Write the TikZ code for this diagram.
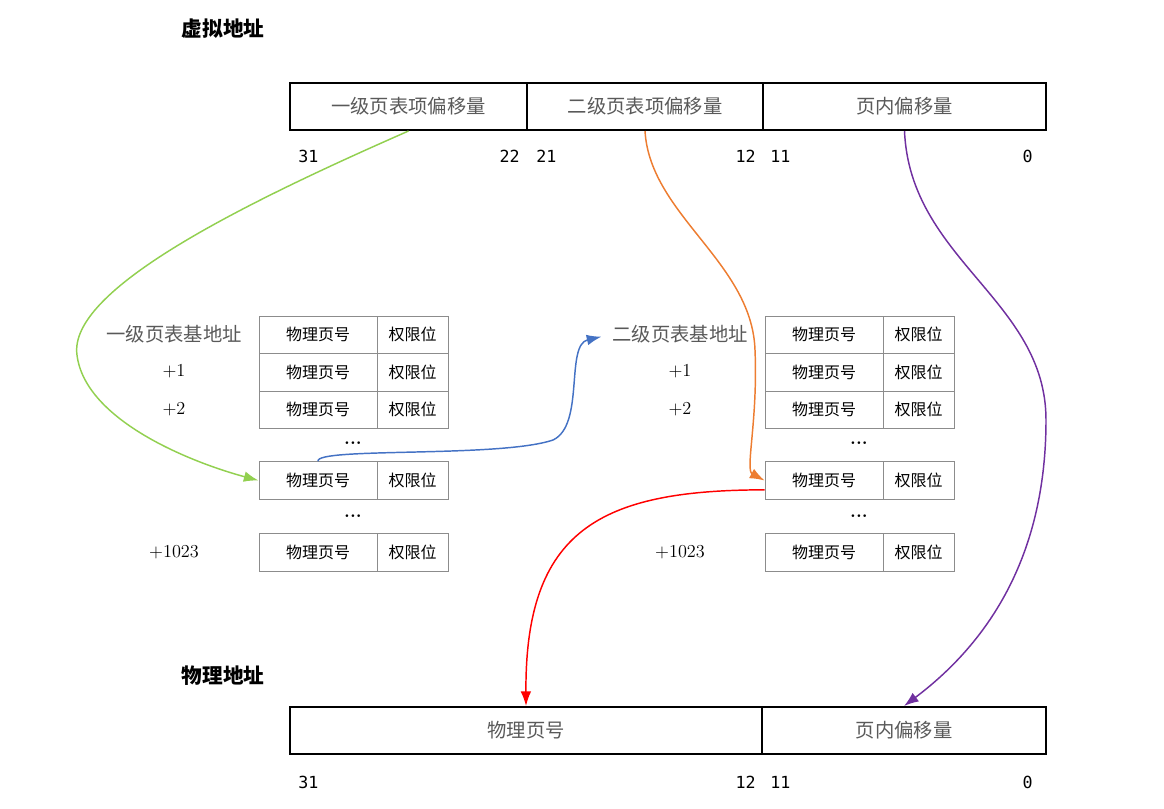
\documentclass[tikz,border=0pt]{standalone}
\usepackage{fontspec}
\newfontfamily\cjk{Noto Sans CJK SC}
\newfontfamily\mono{DejaVu Sans Mono}
\usetikzlibrary{arrows.meta}
\definecolor{cgreen}{HTML}{92D050}
\definecolor{corange}{HTML}{ED7D31}
\definecolor{cblue}{HTML}{4472C4}
\definecolor{cred}{HTML}{FF0000}
\definecolor{cpurple}{HTML}{7030A0}
\tikzset{
  bar/.style={draw=black, line width=1.5pt, inner sep=0pt, minimum height=35.25pt,
    font=\cjk\fontsize{14.5}{16}\selectfont, text=black!65},
  cell/.style={draw=black!45, line width=0.75pt, inner sep=0pt, minimum height=28.125pt,
    font=\cjk\fontsize{12}{14}\selectfont},
  wide/.style={minimum width=88.5pt},
  narrow/.style={minimum width=53.25pt},
  lbl/.style={font=\cjk\fontsize{14.5}{16}\selectfont, text=black!65, inner sep=3pt},
  num/.style={font=\mono\fontsize{12.5}{14}\selectfont, inner sep=0pt},
  off/.style={font=\fontsize{13.7}{15}\selectfont},
  ttl/.style={font=\cjk\bfseries\fontsize{15.5}{17}\selectfont},
  dotsn/.style={inner sep=0pt, anchor=base, font=\bfseries\fontsize{14}{16}\selectfont},
  conn/.style={line width=1.1pt, -{Latex[length=11pt,width=8pt]}}
}
\begin{document}
\begin{tikzpicture}[x=0.75pt,y=-0.75pt]
\useasboundingbox (0,0) rectangle (1164,808);

% titles
\node[ttl] (t1) at (223,29) {虚拟地址};
\node[ttl] (t2) at (223,676) {物理地址};

% virtual address bar
\node[bar, minimum width=177.75pt] (A1) at (408.5,106.5) {一级页表项偏移量};
\node[bar, minimum width=177pt] (A2) at (645,106.5) {二级页表项偏移量};
\node[bar, minimum width=212.25pt] (A3) at (904.5,106.5) {页内偏移量};

\node[num, anchor=west] (n31) at (298,156) {31};
\node[num, anchor=east] (n22) at (520,156) {22};
\node[num, anchor=west] (n21) at (536,156) {21};
\node[num, anchor=east] (n12) at (756,156) {12};
\node[num, anchor=west] (n11) at (770,156) {11};
\node[num, anchor=east] (n0) at (1033,156) {0};

% tables
\foreach \t/\xa/\xb in {L/318/412.5, R/824/918.5} {
  \foreach \r/\y in {1/334.75, 2/372.25, 3/409.75, 4/480.5, 5/552.5} {
    \node[cell,wide] (\t\r a) at (\xa,\y) {物理页号};
    \node[cell,narrow] (\t\r b) at (\xb,\y) {权限位};
  }
}
\node[dotsn] (Ld1) at (353,444) {...};
\node[dotsn] (Ld2) at (353,517) {...};
\node[dotsn] (Rd1) at (859,444) {...};
\node[dotsn] (Rd2) at (859,517) {...};

\node[lbl] (Lb) at (174,334) {一级页表基地址};
\node[off] (Lp1) at (174,371) {+1};
\node[off] (Lp2) at (174,409) {+2};
\node[off] (Lp3) at (174,552) {+1023};
\node[lbl] (Rb) at (680,334) {二级页表基地址};
\node[off] (Rp1) at (680,371) {+1};
\node[off] (Rp2) at (680,409) {+2};
\node[off] (Rp3) at (680,552) {+1023};

% physical address bar
\node[bar, minimum width=354pt] (B1) at (526,730.5) {物理页号};
\node[bar, minimum width=213pt] (B2) at (904,730.5) {页内偏移量};

\node[num, anchor=west] (m31) at (298,782) {31};
\node[num, anchor=east] (m12) at (756,782) {12};
\node[num, anchor=west] (m11) at (770,782) {11};
\node[num, anchor=east] (m0) at (1033,782) {0};

% connectors
\draw[conn, cgreen] (A1.south) .. controls (240,205) and (68,290) .. (77,355)
  .. controls (85,420) and (190,462) .. (L4a.west);
\draw[conn, cblue] (L4a.north) .. controls (315,447) and (500,458) .. (553,440)
  .. controls (585,425) and (565,345) .. ([shift={(-5pt,-2pt)}]Rb.west);
\draw[conn, corange] (A2.south) .. controls (650,215) and (752,262) .. (755,350)
  .. controls (758,420) and (745,470) .. (R4a.west);
\draw[conn, cred] ([yshift=-7pt]R4a.west) .. controls (600,490) and (525,530) .. (B1.north);
\draw[conn, cpurple] (A3.south) .. controls (910,260) and (1046,300) .. (1046,420)
  .. controls (1046,560) and (985,645) .. (B2.north);
\end{tikzpicture}
\end{document}
